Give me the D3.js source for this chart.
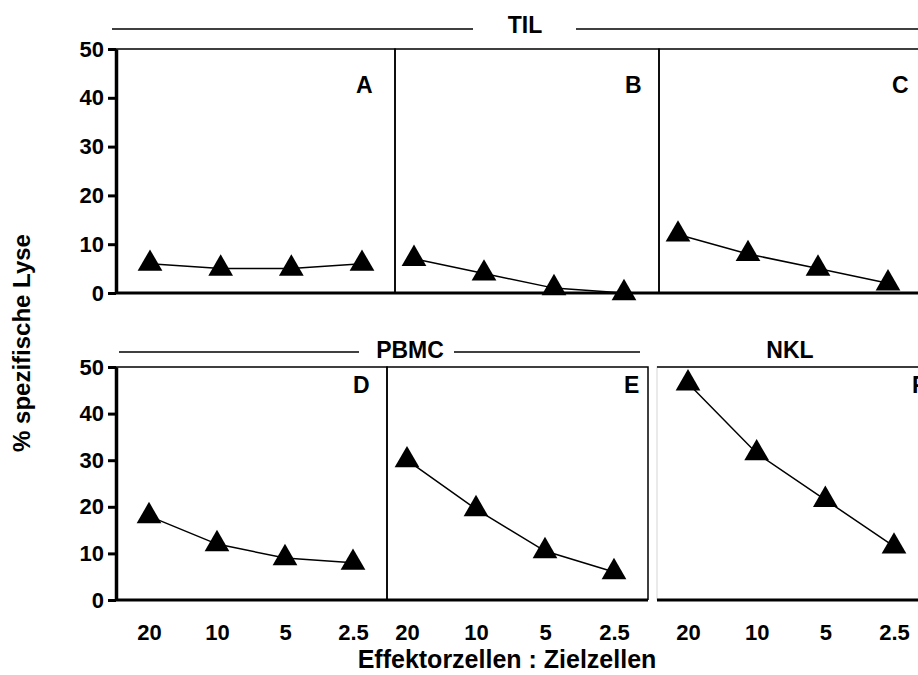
<!DOCTYPE html>
<html>
<head>
<meta charset="utf-8">
<script src="https://cdn.jsdelivr.net/npm/d3@7"></script>
<style>
  body { margin: 0; background: #fff; }
  text { font-family: "Liberation Sans", Arial, sans-serif; font-weight: bold; fill: #000; }
</style>
</head>
<body>
<script>

// Effector : target ratios on the x axis
var ratios = ["20", "10", "5", "2.5"];

// % specific lysis per panel
var lysisA = [6, 5, 5, 6];
var lysisB = [7, 4, 1, 0];
var lysisC = [12, 8, 5, 2];
var lysisD = [18, 12, 9, 8];
var lysisE = [30, 19.5, 10.5, 6];
var lysisF = [46.5, 31.5, 21.5, 11.5];

var yTicks = [0, 10, 20, 30, 40, 50];
var panelLetters = ["A", "B", "C", "D", "E", "F"];
var groupLabels = ["TIL", "PBMC", "NKL"];

var w = 918;
var h = 675;

var svg = d3.select("body")
            .append("svg")
            .attr("width", w)
            .attr("height", h);

// rows: top and bottom pixel of the 0..50 range
var rows = [
  {top: 49, bottom: 293},
  {top: 367, bottom: 600}
];

// panel boxes and where the first / last point sits
var panels = [
  {row: 0, left: 116, right: 395, x0: 150, x1: 362, letterX: 356, values: lysisA},
  {row: 0, left: 395, right: 659, x0: 414, x1: 624, letterX: 625, values: lysisB},
  {row: 0, left: 659, right: 940, x0: 678, x1: 888, letterX: 892, values: lysisC},
  {row: 1, left: 116, right: 387, x0: 149, x1: 353, letterX: 353, values: lysisD},
  {row: 1, left: 387, right: 648, x0: 407, x1: 614, letterX: 624, values: lysisE},
  {row: 1, left: 657, right: 940, x0: 688, x1: 894, letterX: 912, values: lysisF}
];

panels.forEach(function(p, i){

  var row = rows[p.row];
  var g = svg.append("g");

  var xScale = d3.scalePoint()
                 .domain(ratios)
                 .range([p.x0, p.x1]);

  var yScale = d3.scaleLinear()
                 .domain([0, 50])
                 .range([row.bottom, row.top]);

  // thin frame (top, left, right)
  g.append("path")
    .attr("d", "M" + p.left + "," + yScale(0) + "V" + yScale(50) + "H" + p.right + "V" + yScale(0))
    .attr("fill", "none")
    .attr("stroke", i == 5 ? "#e4e4e4" : "#000")
    .attr("stroke-width", 1.5);
  if (i == 5) {
    g.append("line")
      .attr("x1", p.left).attr("x2", p.right)
      .attr("y1", yScale(50)).attr("y2", yScale(50))
      .attr("stroke", "#000").attr("stroke-width", 1.5);
  }

  // thick baseline
  g.append("line")
    .attr("x1", p.left)
    .attr("x2", p.right)
    .attr("y1", yScale(0))
    .attr("y2", yScale(0))
    .attr("stroke", "#000")
    .attr("stroke-width", 3);

  // y axis on the first panel of each row
  if (i == 0 || i == 3) {
    var yAxis = g.append("g")
                 .attr("transform", "translate(" + p.left + ",0)")
                 .call(d3.axisLeft(yScale).tickValues(yTicks).tickSize(8).tickSizeOuter(0).tickPadding(4));
    yAxis.select(".domain").attr("stroke-width", 3.5);
    yAxis.selectAll(".tick line").attr("stroke-width", 3);
    yAxis.selectAll("text")
         .style("font-size", "22px")
         .attr("fill", "#000");
  }

  // x tick labels only on the bottom row
  if (p.row == 1) {
    var xAxis = g.append("g")
                 .attr("transform", "translate(0," + yScale(0) + ")")
                 .call(d3.axisBottom(xScale).tickSize(0).tickPadding(24));
    xAxis.select(".domain").remove();
    xAxis.selectAll("text")
         .style("font-size", "22px")
         .attr("fill", "#000");
  }

  // data line
  var line = d3.line()
               .x(function(d, j){ return xScale(ratios[j]); })
               .y(function(d){ return yScale(d); });

  g.append("path")
    .datum(p.values)
    .attr("d", line)
    .attr("fill", "none")
    .attr("stroke", "#000")
    .attr("stroke-width", 1.5);

  // triangle markers
  g.selectAll(".marker")
    .data(p.values)
    .enter()
    .append("path")
    .attr("class", "marker")
    .attr("d", d3.symbol().type(d3.symbolTriangle).size(265))
    .attr("transform", function(d, j){ return "translate(" + xScale(ratios[j]) + "," + yScale(d) + ")"; })
    .attr("fill", "#000");

  // panel letter
  g.append("text")
    .attr("x", p.letterX)
    .attr("y", p.row == 0 ? 93 : 393)
    .style("font-size", "23px")
    .text(panelLetters[i]);
});

// group headers with their lines
var headerLines = [
  [112, 473, 29], [576, 918, 29],
  [119, 359, 352], [454, 640, 352]
];

svg.selectAll(".header-line")
   .data(headerLines)
   .enter()
   .append("line")
   .attr("x1", d => d[0])
   .attr("x2", d => d[1])
   .attr("y1", d => d[2])
   .attr("y2", d => d[2])
   .attr("stroke", "#000")
   .attr("stroke-width", 1.5);

var headerPos = [[525, 33], [410, 358], [790, 358]];

svg.selectAll(".header")
   .data(groupLabels)
   .enter()
   .append("text")
   .attr("x", (d, i) => headerPos[i][0])
   .attr("y", (d, i) => headerPos[i][1])
   .attr("text-anchor", "middle")
   .style("font-size", "23px")
   .text(d => d);

// axis titles
svg.append("text")
   .attr("x", 507)
   .attr("y", 668)
   .attr("text-anchor", "middle")
   .style("font-size", "25px")
   .text("Effektorzellen : Zielzellen");

svg.append("text")
   .attr("transform", "translate(30,343) rotate(-90)")
   .attr("text-anchor", "middle")
   .style("font-size", "24px")
   .text("% spezifische Lyse");

</script>
</body>
</html>
